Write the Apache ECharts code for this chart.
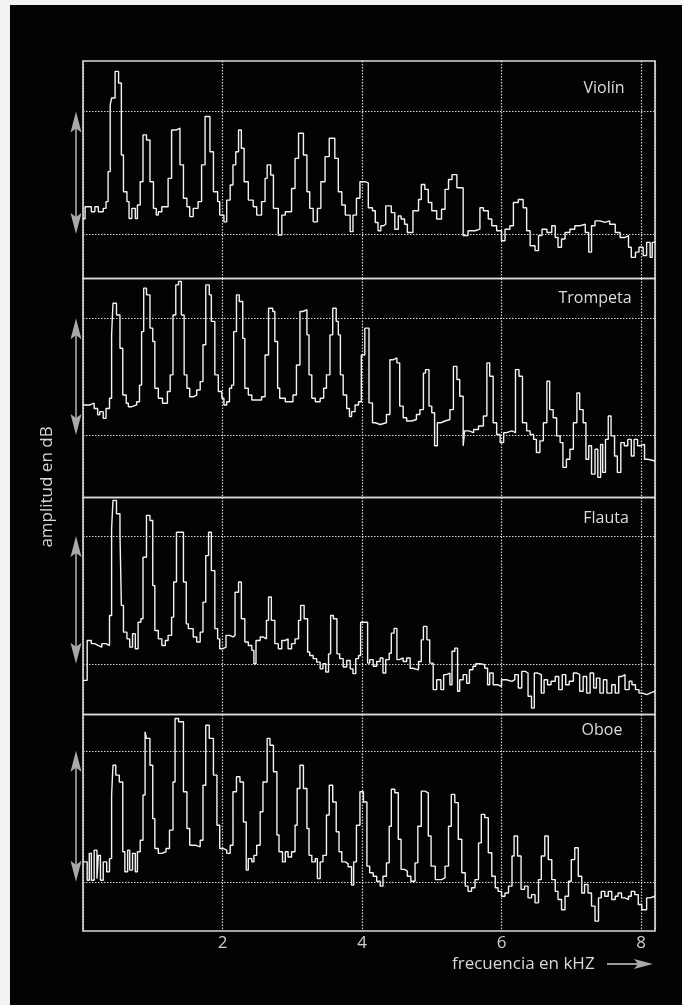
<!DOCTYPE html>
<html>
<head>
<meta charset="utf-8">
<script src="https://cdn.jsdelivr.net/npm/echarts@6/dist/echarts.min.js"></script>
<style>
  html, body { margin: 0; padding: 0; background: #030303; }
  #chart { position: absolute; left: 0; top: 0; width: 682px; height: 1005px; }
  .edge { position: absolute; background: #f2f2f2; pointer-events: none; }
</style>
</head>
<body>
<div id="chart"></div>
<div class="edge" style="left:0;top:0;width:10px;height:1005px"></div>
<div class="edge" style="left:0;top:0;width:682px;height:5px"></div>
<script>
// Instrument names, one spectrum panel each
const instruments = ['Violín', 'Trompeta', 'Flauta', 'Oboe'];
// Frequency tick labels (kHz)
const freqTicks = [2, 4, 6, 8];
// Reference amplitude levels (dB) marked by dotted lines and the range arrows
const refLevels = [0, 40];

// Spectra: [frequency kHz, amplitude dB] — each level holds until the next point
const violin = [
  [0.00,5.0],[0.03,8.9],[0.12,7.3],[0.17,8.9],[0.22,7.3],[0.29,8.4],[0.33,10.6],[0.36,20.4],
  [0.39,42.2],[0.41,44.4],[0.46,53.1],[0.51,49.3],[0.55,25.8],[0.58,13.8],[0.63,10.6],[0.66,5.1],
  [0.70,8.4],[0.75,5.1],[0.78,9.5],[0.82,17.1],[0.86,32.4],[0.91,30.7],[0.96,17.1],[1.01,8.4],
  [1.05,6.2],[1.08,7.3],[1.13,8.9],[1.22,18.2],[1.27,34.0],[1.34,34.6],[1.39,22.6],[1.44,11.7],
  [1.49,8.9],[1.53,5.7],[1.58,8.4],[1.65,10.6],[1.70,22.6],[1.75,38.4],[1.82,26.9],[1.87,13.8],
  [1.93,10.6],[1.96,6.2],[2.02,4.0],[2.06,11.1],[2.11,16.0],[2.15,22.6],[2.19,26.9],[2.23,34.0],
  [2.27,28.0],[2.31,17.1],[2.37,11.1],[2.44,8.9],[2.49,6.2],[2.56,10.6],[2.61,18.2],[2.64,22.6],
  [2.69,19.3],[2.73,8.4],[2.80,-0.3],[2.85,6.2],[2.90,7.3],[2.99,14.9],[3.04,24.7],[3.09,32.9],
  [3.16,25.8],[3.21,13.8],[3.25,8.4],[3.30,4.0],[3.36,8.4],[3.41,17.1],[3.47,25.3],[3.53,31.3],
  [3.61,24.7],[3.66,13.8],[3.71,9.5],[3.76,6.2],[3.83,0.8],[3.87,6.2],[3.92,11.7],[3.97,17.1],
  [4.04,16.7],[4.09,8.6],[4.15,7.6],[4.19,3.8],[4.23,1.1],[4.27,2.7],[4.31,3.2],[4.34,9.2],
  [4.42,7.0],[4.47,1.6],[4.52,5.9],[4.56,4.9],[4.61,3.2],[4.65,0.5],[4.73,7.6],[4.81,11.3],
  [4.85,16.2],[4.90,14.6],[4.95,10.3],[5.00,7.6],[5.07,4.9],[5.14,8.1],[5.19,14.6],[5.24,17.8],
  [5.29,19.4],[5.36,15.1],[5.45,-0.5],[5.52,1.1],[5.62,1.6],[5.69,8.6],[5.74,7.6],[5.81,4.9],
  [5.86,2.7],[5.93,1.1],[6.00,-2.2],[6.05,1.6],[6.12,2.7],[6.17,10.3],[6.24,11.3],[6.31,8.6],
  [6.36,1.1],[6.41,-3.8],[6.48,-5.4],[6.53,-0.5],[6.58,1.6],[6.65,0.5],[6.72,2.7],[6.77,-1.1],
  [6.81,-4.3],[6.86,-1.6],[6.91,0.5],[6.98,1.6],[7.05,2.7],[7.12,3.2],[7.20,0.5],[7.25,-5.9],
  [7.29,2.7],[7.34,4.3],[7.41,3.8],[7.48,4.3],[7.55,3.2],[7.63,0.5],[7.70,-1.1],[7.77,-0.5],
  [7.82,-4.3],[7.86,-7.6],[7.92,-5.9],[7.97,-4.3],[8.03,-7.0],[8.08,-2.7],[8.13,-7.6],[8.16,-2.7],
  [8.20,-2.7]
];

const trumpet = [
  [0.00,10.3],[0.10,10.9],[0.16,9.1],[0.21,6.9],[0.24,8.0],[0.29,5.7],[0.33,9.1],[0.38,12.6],
  [0.41,34.3],[0.43,45.1],[0.48,41.1],[0.53,29.7],[0.57,13.7],[0.62,10.9],[0.65,9.7],[0.70,10.3],
  [0.77,11.4],[0.81,17.1],[0.84,35.4],[0.87,50.3],[0.91,48.0],[0.96,36.6],[1.00,32.0],[1.03,16.0],
  [1.08,12.6],[1.14,10.9],[1.21,14.9],[1.25,20.6],[1.29,41.1],[1.33,51.4],[1.37,52.6],[1.41,41.1],
  [1.45,20.6],[1.49,16.0],[1.53,13.1],[1.58,13.7],[1.63,15.4],[1.68,18.3],[1.72,30.9],[1.76,51.4],
  [1.81,48.0],[1.84,38.9],[1.89,20.6],[1.94,14.9],[1.99,12.6],[2.02,10.3],[2.06,11.4],[2.10,16.0],
  [2.13,17.1],[2.16,35.4],[2.20,48.0],[2.24,45.7],[2.29,33.1],[2.32,16.0],[2.37,13.7],[2.42,12.0],
  [2.56,13.1],[2.61,27.4],[2.66,43.4],[2.72,42.3],[2.75,32.0],[2.79,16.0],[2.82,12.6],[2.90,11.4],
  [3.01,13.7],[3.06,24.0],[3.11,42.3],[3.15,42.9],[3.21,34.3],[3.24,20.6],[3.28,12.6],[3.33,11.4],
  [3.40,12.6],[3.45,16.0],[3.49,20.6],[3.54,34.3],[3.58,43.4],[3.63,38.9],[3.66,34.3],[3.69,20.6],
  [3.73,13.7],[3.78,9.1],[3.82,6.3],[3.85,8.0],[3.90,10.3],[3.95,11.4],[3.99,27.4],[4.04,36.6],
  [4.10,11.0],[4.15,4.2],[4.19,3.6],[4.26,4.2],[4.35,7.0],[4.40,25.8],[4.45,26.4],[4.50,24.7],
  [4.54,9.9],[4.59,5.9],[4.64,4.8],[4.71,5.3],[4.78,7.0],[4.83,8.7],[4.88,21.2],[4.91,22.4],
  [4.96,9.9],[5.00,7.6],[5.04,-3.7],[5.08,4.2],[5.13,4.8],[5.19,5.3],[5.26,8.7],[5.31,23.5],
  [5.36,19.0],[5.40,13.3],[5.45,-3.7],[5.47,1.4],[5.53,0.8],[5.60,1.9],[5.67,3.1],[5.74,6.5],
  [5.79,24.7],[5.83,20.1],[5.88,4.2],[5.93,0.2],[5.98,-2.6],[6.03,0.8],[6.07,1.4],[6.15,0.8],
  [6.20,22.4],[6.25,20.1],[6.30,4.2],[6.36,1.4],[6.41,0.2],[6.46,-1.5],[6.50,-6.0],[6.55,-2.0],
  [6.60,4.2],[6.65,18.4],[6.69,8.7],[6.74,5.9],[6.79,-0.3],[6.84,-2.6],[6.88,-11.1],[6.93,-8.3],
  [6.98,-4.9],[7.03,4.2],[7.08,14.4],[7.12,8.7],[7.17,4.2],[7.21,-8.3],[7.25,-3.7],[7.29,-13.4],
  [7.34,-4.9],[7.38,-14.5],[7.42,-3.2],[7.45,-12.8],[7.49,-1.5],[7.53,6.5],[7.57,-0.3],[7.62,-7.2],
  [7.66,-12.8],[7.71,-2.6],[7.76,-3.7],[7.81,-1.5],[7.86,-7.2],[7.90,-1.5],[7.95,-3.7],[7.99,-3.2],
  [8.05,-8.3],[8.10,-8.9],[8.20,-8.9]
];

const flute = [
  [0.00,-5.2],[0.06,7.3],[0.12,6.3],[0.17,5.7],[0.22,5.2],[0.27,6.3],[0.33,5.7],[0.38,15.1],
  [0.41,42.3],[0.43,51.2],[0.48,47.0],[0.53,40.7],[0.55,18.3],[0.58,9.9],[0.63,7.8],[0.67,5.2],
  [0.71,9.4],[0.75,4.7],[0.79,13.0],[0.83,14.1],[0.86,33.4],[0.91,46.5],[0.96,44.9],[1.00,24.5],
  [1.03,10.4],[1.08,7.8],[1.13,5.7],[1.18,7.3],[1.22,8.9],[1.27,14.6],[1.30,25.6],[1.34,41.2],
  [1.44,25.6],[1.48,12.5],[1.51,11.0],[1.58,8.4],[1.63,6.8],[1.68,9.9],[1.72,19.3],[1.76,33.9],
  [1.80,41.2],[1.84,29.2],[1.89,11.0],[1.93,7.8],[1.96,4.7],[2.00,5.2],[2.05,8.9],[2.10,8.4],
  [2.15,8.9],[2.18,22.4],[2.23,25.6],[2.27,14.1],[2.32,6.8],[2.37,5.7],[2.42,4.2],[2.45,0.0],
  [2.48,7.3],[2.54,8.4],[2.58,7.8],[2.63,13.6],[2.66,20.9],[2.70,13.6],[2.75,6.3],[2.80,4.7],
  [2.85,7.3],[2.90,7.8],[2.94,4.7],[2.99,6.3],[3.04,7.8],[3.09,13.6],[3.12,18.3],[3.17,14.1],
  [3.22,3.7],[3.25,2.6],[3.30,1.6],[3.35,0.5],[3.40,-1.6],[3.44,0.0],[3.48,-2.6],[3.52,3.1],
  [3.55,15.1],[3.59,14.1],[3.64,3.1],[3.68,1.6],[3.73,-1.0],[3.78,1.0],[3.83,-1.6],[3.87,-3.1],
  [3.91,1.6],[3.95,2.6],[3.98,13.0],[4.08,0.2],[4.11,1.3],[4.16,-0.8],[4.21,0.7],[4.26,1.8],
  [4.30,-2.9],[4.34,1.3],[4.39,3.3],[4.42,9.6],[4.46,11.1],[4.50,1.3],[4.53,1.8],[4.59,0.7],
  [4.64,1.8],[4.69,-1.4],[4.73,-1.9],[4.81,0.7],[4.85,7.5],[4.88,11.7],[4.93,7.5],[4.97,0.2],
  [5.02,-8.1],[5.07,-5.0],[5.13,-8.1],[5.17,-3.4],[5.21,-2.9],[5.26,-6.6],[5.29,3.9],[5.33,4.9],
  [5.37,-8.6],[5.40,-5.0],[5.45,-3.4],[5.50,-6.1],[5.54,-1.9],[5.59,-0.8],[5.63,0.0],[5.69,-0.3],
  [5.76,-1.4],[5.80,-6.6],[5.83,-2.9],[5.88,-6.6],[5.95,-7.1],[6.00,-5.0],[6.07,-5.5],[6.15,-5.0],
  [6.19,-3.4],[6.24,-7.6],[6.29,-2.4],[6.34,-2.9],[6.38,-10.2],[6.43,-13.9],[6.47,-2.9],[6.52,-3.4],
  [6.57,-9.2],[6.61,-5.0],[6.66,-6.6],[6.71,-5.5],[6.77,-4.0],[6.82,-8.1],[6.87,-3.4],[6.92,-6.6],
  [6.97,-5.5],[7.03,-2.9],[7.08,-3.4],[7.12,-8.6],[7.17,-4.0],[7.22,-9.2],[7.27,-2.9],[7.32,-7.6],
  [7.36,-4.5],[7.41,-9.2],[7.46,-5.0],[7.51,-9.2],[7.58,-6.6],[7.63,-9.2],[7.68,-4.0],[7.72,-3.4],
  [7.77,-8.1],[7.83,-5.5],[7.87,-6.6],[7.92,-8.1],[7.97,-9.2],[8.02,-9.7],[8.08,-9.2],[8.13,-8.6],
  [8.20,-8.6]
];

const oboe = [
  [0.00,6.1],[0.06,0.5],[0.09,8.7],[0.12,0.5],[0.16,9.7],[0.20,1.0],[0.22,8.1],[0.25,0.5],
  [0.29,6.1],[0.34,3.1],[0.38,7.1],[0.41,26.5],[0.43,35.6],[0.47,32.6],[0.52,30.5],[0.57,9.2],
  [0.60,3.1],[0.64,9.7],[0.67,3.6],[0.71,8.7],[0.75,3.1],[0.78,9.2],[0.82,12.7],[0.86,26.5],
  [0.89,45.8],[0.91,43.8],[0.96,35.6],[1.00,19.3],[1.03,10.2],[1.08,8.7],[1.13,9.2],[1.19,10.2],
  [1.24,15.8],[1.29,30.5],[1.32,49.9],[1.37,48.9],[1.44,27.5],[1.49,16.3],[1.53,11.2],[1.61,10.7],
  [1.68,12.7],[1.72,29.5],[1.76,47.8],[1.81,43.8],[1.87,32.6],[1.92,17.3],[1.96,10.2],[2.01,9.7],
  [2.06,8.7],[2.11,11.2],[2.15,27.5],[2.20,32.1],[2.25,30.5],[2.30,18.3],[2.34,3.6],[2.37,7.1],
  [2.42,6.1],[2.45,8.1],[2.49,11.2],[2.54,21.4],[2.58,30.5],[2.64,43.8],[2.68,41.7],[2.73,33.6],
  [2.78,14.3],[2.81,9.2],[2.86,6.1],[2.90,9.2],[2.94,7.6],[2.99,9.2],[3.04,17.3],[3.07,28.5],
  [3.11,35.6],[3.16,28.5],[3.21,16.3],[3.24,8.1],[3.28,6.1],[3.33,7.1],[3.36,1.0],[3.40,6.1],
  [3.44,8.1],[3.49,20.4],[3.53,29.5],[3.58,24.4],[3.63,15.3],[3.67,9.2],[3.71,6.1],[3.76,5.6],
  [3.80,4.6],[3.85,-1.0],[3.88,6.1],[3.92,17.3],[3.97,27.5],[4.02,24.4],[4.07,4.8],[4.11,2.8],
  [4.16,1.7],[4.21,0.2],[4.26,-1.3],[4.30,1.7],[4.35,5.8],[4.39,17.0],[4.42,28.3],[4.47,27.2],
  [4.52,13.0],[4.56,3.8],[4.61,3.3],[4.65,1.7],[4.70,0.2],[4.76,5.8],[4.80,17.0],[4.85,27.7],
  [4.90,27.2],[4.95,14.0],[4.99,4.8],[5.05,0.7],[5.14,1.2],[5.19,4.8],[5.24,17.0],[5.28,26.7],
  [5.33,24.2],[5.38,13.0],[5.43,2.8],[5.48,-1.3],[5.52,-2.9],[5.57,-1.8],[5.62,0.7],[5.67,11.9],
  [5.71,20.6],[5.76,19.6],[5.81,8.9],[5.86,1.7],[5.91,-1.8],[5.95,-2.9],[6.00,-4.4],[6.05,-3.4],
  [6.10,-1.3],[6.15,7.9],[6.18,14.0],[6.23,7.9],[6.28,-2.3],[6.33,-1.3],[6.38,-4.9],[6.43,-3.9],
  [6.48,-6.4],[6.53,0.7],[6.57,7.9],[6.62,14.0],[6.67,6.8],[6.72,0.7],[6.77,-2.9],[6.81,-5.4],
  [6.86,-8.5],[6.91,-4.4],[6.96,0.2],[7.00,6.8],[7.05,10.4],[7.10,1.7],[7.15,-3.4],[7.19,-0.8],
  [7.24,-3.4],[7.29,-7.4],[7.34,-12.0],[7.39,-4.9],[7.43,-2.9],[7.48,-4.4],[7.53,-2.9],[7.58,-5.4],
  [7.63,-4.4],[7.67,-3.4],[7.72,-4.9],[7.77,-5.4],[7.82,-4.4],[7.86,-2.9],[7.91,-3.9],[7.96,-6.9],
  [8.01,-8.5],[8.08,-4.9],[8.13,-4.4],[8.20,-4.4]
];

const spectra = [violin, trumpet, flute, oboe];

// Panel geometry (pixels) and amplitude range of each panel (dB)
const panels = [
  { top: 61,    height: 217.5, yMin: -14.5, yMax: 56.5, labelX: 604, labelY: 88 },
  { top: 278.5, height: 219,   yMin: -21.4, yMax: 53.6, labelX: 595, labelY: 298 },
  { top: 497.5, height: 217,   yMin: -15.9, yMax: 52.1, labelX: 606, labelY: 518 },
  { top: 714.5, height: 216.5, yMin: -15.0, yMax: 51.1, labelX: 602, labelY: 730 }
];

const FONT = '"Open Sans", "Noto Sans", sans-serif';
const dotted = { color: '#d6d6d6', width: 1.2, type: [1.5, 1.5] };

const chart = echarts.init(document.getElementById('chart'), null, { renderer: 'canvas' });

const option = {
  backgroundColor: '#030303',
  animation: false,
  grid: panels.map(p => ({
    left: 83, right: 27, top: p.top, height: p.height,
    show: true, borderColor: '#dcdcdc', borderWidth: 1.6, backgroundColor: 'transparent'
  })),
  xAxis: panels.map((p, i) => ({
    gridIndex: i, type: 'value', min: 0, max: 8.2, interval: 2,
    axisLine: { show: false }, axisTick: { show: false },
    splitLine: { show: true, lineStyle: dotted },
    axisLabel: {
      show: i === panels.length - 1, color: '#cfcfcf', fontSize: 17, fontFamily: FONT, margin: 4,
      formatter: v => (freqTicks.indexOf(v) >= 0 ? String(v) : '')
    }
  })),
  yAxis: panels.map((p, i) => ({
    gridIndex: i, type: 'value', min: p.yMin, max: p.yMax, show: false
  })),
  series: spectra.map((d, i) => ({
    name: instruments[i], type: 'line', xAxisIndex: i, yAxisIndex: i,
    data: d, step: 'end', symbol: 'none', showSymbol: false,
    lineStyle: { color: '#f2f2f2', width: 1.4 },
    emphasis: { disabled: true },
    markLine: {
      silent: true, symbol: 'none', label: { show: false },
      lineStyle: dotted, emphasis: { disabled: true },
      data: refLevels.map(v => ({ yAxis: v }))
    }
  }))
};

chart.setOption(option);

// Decorations positioned through the axes' own scales
const graphic = [];
panels.forEach((p, i) => {
  const yHi = chart.convertToPixel({ yAxisIndex: i }, refLevels[1]);
  const yLo = chart.convertToPixel({ yAxisIndex: i }, refLevels[0]);
  const x0 = chart.convertToPixel({ xAxisIndex: i }, 0);
  const ax = x0 - 7;
  const hh = 21, hw = 5.5;
  graphic.push({
    type: 'line', silent: true,
    shape: { x1: ax, y1: yHi + 6, x2: ax, y2: yLo - 6 },
    style: { stroke: '#e0e0e0', lineWidth: 1.2 }
  });
  graphic.push({
    type: 'polygon', silent: true,
    shape: { points: [[ax, yHi], [ax - hw, yHi + hh], [ax, yHi + hh - 4], [ax + hw, yHi + hh]] },
    style: { fill: '#a9a9a9' }
  });
  graphic.push({
    type: 'polygon', silent: true,
    shape: { points: [[ax, yLo], [ax - hw, yLo - hh], [ax, yLo - hh + 4], [ax + hw, yLo - hh]] },
    style: { fill: '#a9a9a9' }
  });
  graphic.push({
    type: 'text', silent: true, x: p.labelX, y: p.labelY,
    style: { text: instruments[i], fill: '#dcdcdc', font: '16px ' + FONT, align: 'center', verticalAlign: 'middle' }
  });
});

// Axis titles
graphic.push({
  type: 'text', silent: true, x: 47, y: 487, rotation: Math.PI / 2,
  style: { text: 'amplitud en dB', fill: '#d8d8d8', font: '17px ' + FONT, align: 'center', verticalAlign: 'middle' }
});
graphic.push({
  type: 'text', silent: true, x: 452, y: 964,
  style: { text: 'frecuencia en kHZ', fill: '#d8d8d8', font: '17px ' + FONT, align: 'left', verticalAlign: 'middle' }
});
graphic.push({
  type: 'line', silent: true,
  shape: { x1: 607, y1: 964, x2: 640, y2: 964 },
  style: { stroke: '#cfcfcf', lineWidth: 1.6 }
});
graphic.push({
  type: 'polygon', silent: true,
  shape: { points: [[653, 964], [634, 959], [638, 964], [634, 969]] },
  style: { fill: '#a9a9a9' }
});

chart.setOption({ graphic: graphic });
</script>
</body>
</html>
